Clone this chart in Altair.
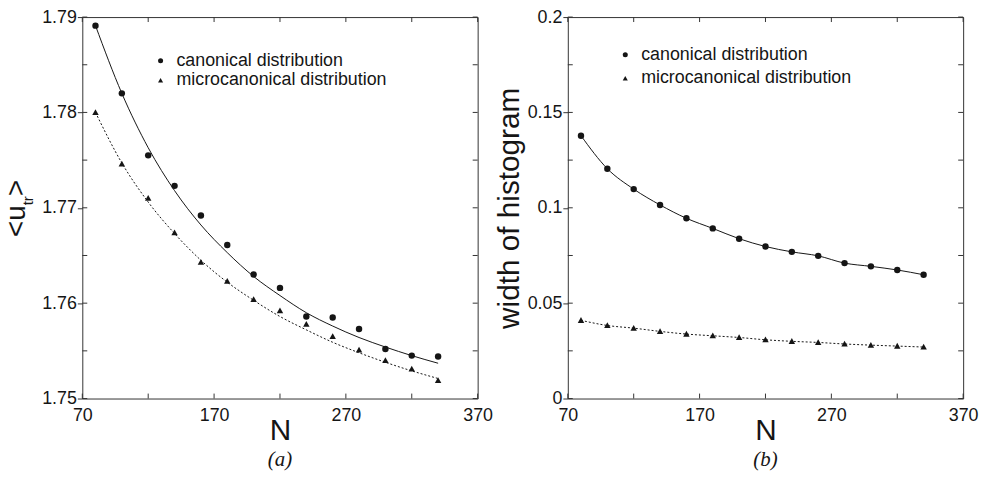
import altair as alt
import pandas as pd

# ---------------- data ----------------
N = [80, 100, 120, 140, 160, 180, 200, 220, 240, 260, 280, 300, 320, 340]

# panel (a): <u_tr>
u_canonical = [1.7891, 1.7820, 1.7755, 1.7723, 1.7692, 1.7661, 1.7630,
               1.7616, 1.7586, 1.7585, 1.7573, 1.7552, 1.7545, 1.7544]
u_micro = [1.7800, 1.7746, 1.7710, 1.7674, 1.7643, 1.7623, 1.7604,
           1.7592, 1.7578, 1.7565, 1.7551, 1.7540, 1.7531, 1.7519]
u_canonical_fit = [1.7891, 1.7820, 1.7763, 1.7718, 1.7682, 1.7653, 1.7628,
                   1.7608, 1.7590, 1.7576, 1.7564, 1.7554, 1.7545, 1.7537]
u_micro_fit = [1.7800, 1.7747, 1.7706, 1.7673, 1.7645, 1.7622, 1.7603,
               1.7586, 1.7572, 1.7559, 1.7548, 1.7538, 1.7529, 1.7521]

# panel (b): width of histogram
w_canonical = [0.1378, 0.1205, 0.1098, 0.1015, 0.0945, 0.0892, 0.0838,
               0.0797, 0.0769, 0.0748, 0.0710, 0.0693, 0.0674, 0.0649]
w_micro = [0.0410, 0.0383, 0.0369, 0.0352, 0.0338, 0.0329, 0.0320,
           0.0308, 0.0300, 0.0294, 0.0286, 0.0280, 0.0275, 0.0270]

SERIES = ["canonical distribution", "microcanonical distribution"]

X_DOMAIN = [70, 370]
X_MAJOR = [70, 170, 270, 370]
X_ALL = [70, 120, 170, 220, 270, 320, 370]

A_DOMAIN = [1.75, 1.79]
A_MAJOR = [1.75, 1.76, 1.77, 1.78, 1.79]
A_ALL = [1.75, 1.755, 1.76, 1.765, 1.77, 1.775, 1.78, 1.785, 1.79]

B_DOMAIN = [0, 0.2]
B_MAJOR = [0, 0.05, 0.1, 0.15, 0.2]
B_ALL = [0, 0.025, 0.05, 0.075, 0.1, 0.125, 0.15, 0.175, 0.2]

# ---------------- styling ----------------
W, H = 399, 385
FONT = "Liberation Sans"
INK = "#151515"
FRAME = "#333333"
TICK = 5
TRIANGLE = "M0,-1L1,0.8L-1,0.8Z"


def one(text):
    return pd.DataFrame({"t": [text]})


def txt(s, x, y, size, angle=270, font=FONT, style="normal",
        align="left", baseline="alphabetic"):
    return alt.Chart(one(s)).mark_text(
        font=font, fontSize=size, angle=angle, align=align,
        baseline=baseline, color=INK, fontStyle=style
    ).encode(text="t:N", x=alt.value(x), y=alt.value(y))


def panel(can, mic, can_fit, mic_fit, ydom, ymajor, yall, yfmt, ytitle,
          caption, lx, ly, rowpad, composite_title):
    xs = alt.Scale(domain=X_DOMAIN, nice=False, zero=False)
    ys = alt.Scale(domain=ydom, nice=False, zero=False)

    xaxis = alt.Axis(values=X_MAJOR, format="d", title="N", ticks=False,
                     domain=False, grid=False, labelPadding=8,
                     labelFontSize=18, labelFont=FONT, labelColor=INK,
                     labelFlush=False, labelOverlap=False,
                     titleFontSize=30, titleFont=FONT, titleFontWeight="normal",
                     titleColor=INK, titleY=41, titleBaseline="alphabetic")
    ykw = dict(values=ymajor, format=yfmt, ticks=True, tickSize=TICK,
               tickColor=FRAME, domain=False, grid=False, labelPadding=1,
               labelFontSize=18, labelFont=FONT, labelColor=INK,
               labelFlush=False, labelOverlap=False,
               titleFontSize=30, titleFont=FONT, titleFontWeight="normal",
               titleColor=INK, titlePadding=3)
    if composite_title:
        ykw["title"] = None
    else:
        ykw["title"] = ytitle
    yaxis = alt.Axis(**ykw)

    x_enc = alt.X("N:Q", scale=xs, axis=xaxis)
    y_enc = alt.Y("v:Q", scale=ys, axis=yaxis)

    n2 = len(N)
    pts = pd.DataFrame({"N": N + N, "v": can + mic,
                        "series": [SERIES[0]] * n2 + [SERIES[1]] * n2})
    fit_can = pd.DataFrame({"N": N, "v": can_fit})
    fit_mic = pd.DataFrame({"N": N, "v": mic_fit})

    line_can = alt.Chart(fit_can).mark_line(
        color=INK, strokeWidth=1, interpolate="monotone"
    ).encode(x=x_enc, y=y_enc)
    line_mic = alt.Chart(fit_mic).mark_line(
        color=INK, strokeWidth=1, interpolate="monotone", strokeDash=[2, 2]
    ).encode(x=x_enc, y=y_enc)

    points = alt.Chart(pts).mark_point(
        filled=True, opacity=1, color=INK, size=42
    ).encode(
        x=x_enc, y=y_enc,
        shape=alt.Shape(
            "series:N",
            scale=alt.Scale(domain=SERIES, range=["circle", TRIANGLE]),
            legend=alt.Legend(orient="none", legendX=lx, legendY=ly,
                              title=None, labelFont=FONT, labelFontSize=18,
                              labelColor=INK, labelLimit=0, symbolSize=26,
                              symbolFillColor=INK, symbolStrokeColor=INK,
                              symbolStrokeWidth=0, labelOffset=7,
                              rowPadding=rowpad, padding=0)),
    )

    yt = pd.DataFrame({"v": yall})
    xt = pd.DataFrame({"N": X_ALL})
    tick_l = alt.Chart(yt).mark_rule(color=FRAME, strokeWidth=1).encode(
        y=y_enc, x=alt.value(0), x2=alt.value(TICK))
    tick_r = alt.Chart(yt).mark_rule(color=FRAME, strokeWidth=1).encode(
        y=y_enc, x=alt.value(W - TICK), x2=alt.value(W))
    tick_b = alt.Chart(xt).mark_rule(color=FRAME, strokeWidth=1).encode(
        x=x_enc, y=alt.value(H - TICK), y2=alt.value(H))
    tick_t = alt.Chart(xt).mark_rule(color=FRAME, strokeWidth=1).encode(
        x=x_enc, y=alt.value(0), y2=alt.value(TICK))

    layers = [tick_l, tick_r, tick_b, tick_t, line_can, line_mic, points,
              txt(caption, W / 2, 447, 21, angle=0, font="Liberation Serif",
                  style="italic", align="center", baseline="middle")]

    if composite_title:
        layers += [
            txt("<u", -57.5, 222, 28),
            txt("tr", -50, 190, 15),
            txt(">", -57.5, 180.5, 28),
        ]

    return alt.layer(*layers).properties(width=W, height=H)


left = panel(u_canonical, u_micro, u_canonical_fit, u_micro_fit,
             A_DOMAIN, A_MAJOR, A_ALL, ".2f", "<u_tr>", "(a)",
             70, 35, 2, True)
right = panel(w_canonical, w_micro, w_canonical, w_micro,
              B_DOMAIN, B_MAJOR, B_ALL, ".2~f", "width of histogram", "(b)",
              49, 29, 6, False)

chart = alt.hconcat(left, right, spacing=91, bounds="flush").resolve_scale(
    x="independent", y="independent", shape="independent"
).resolve_legend(shape="independent").configure_view(
    stroke=FRAME, strokeWidth=1
).properties(
    padding={"left": -5, "top": -3, "right": 0, "bottom": 0},
    background="white"
)

chart.save("out.html", embed_options={"renderer": "svg", "actions": False})
